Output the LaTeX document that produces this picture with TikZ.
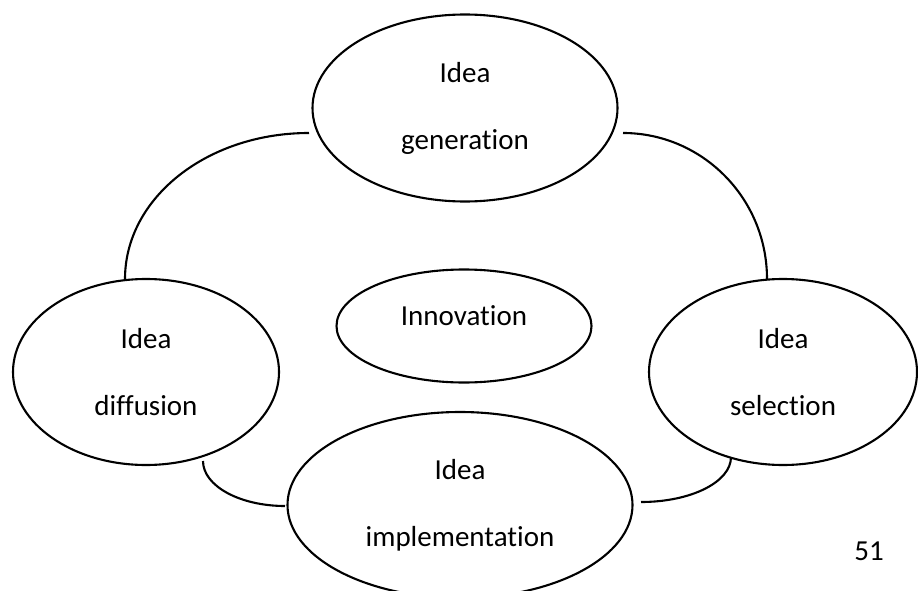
\documentclass[tikz,border=0pt]{standalone}
\usepackage{fontspec}
\setmainfont{Carlito}[Ligatures=NoCommon]
\usetikzlibrary{shapes.geometric}
\begin{document}
\begin{tikzpicture}[x=1pt,y=-1pt,
  bubble/.style={ellipse,draw=black,line width=2.1pt,inner sep=0pt,align=center,
    font=\fontsize{29pt}{67pt}\selectfont},
  link/.style={draw=black,line width=2.1pt},
  pagenum/.style={font=\fontsize{29pt}{35pt}\selectfont,anchor=base,inner sep=0pt}]
\useasboundingbox (0,0) rectangle (918,591);
% ellipses
\node[bubble,minimum width=305pt,minimum height=187pt] (gen) at (465,108) {Idea\\generation};
\node[bubble,minimum width=255pt,minimum height=113pt,text height=19pt,text depth=21pt] (inn) at (464,326) {Innovation};
\node[bubble,minimum width=266pt,minimum height=186pt] (diff) at (146,372) {Idea\\diffusion};
\node[bubble,minimum width=268pt,minimum height=186pt] (sel) at (783,372) {Idea\\selection};
\node[bubble,minimum width=345pt,minimum height=186pt] (impl) at (460,505) {Idea\\implementation};
% connector ends
\coordinate (gL) at (309,133);
\coordinate (dT) at (125,279);
\coordinate (gR) at (623,133);
\coordinate (sT) at (767,279);
\coordinate (dB) at (203,461);
\coordinate (iL) at (285,506);
\coordinate (sB) at (731,457);
\coordinate (iR) at (641,502);
% connectors
\draw[link] (gL) .. controls (207,133) and (125,198) .. (dT);
\draw[link] (gR) .. controls (702,133) and (767,198) .. (sT);
\draw[link] (dB) .. controls (203,486) and (240,506) .. (iL);
\draw[link] (sB) .. controls (731,482) and (691,502) .. (iR);
% page number
\node[pagenum] (pg) at (869,560) {51};
\end{tikzpicture}
\end{document}
